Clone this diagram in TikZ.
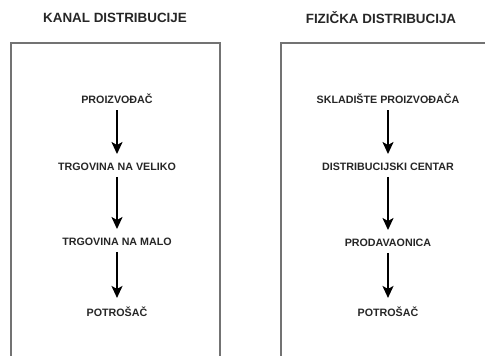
\documentclass[tikz,border=0pt]{standalone}
\usepackage{fontspec}
\setmainfont{Liberation Sans}
\usetikzlibrary{arrows.meta}
\begin{document}
\begin{tikzpicture}[x=1pt,y=-1pt,
  stage/.style={font=\fontsize{10.7}{12}\selectfont\bfseries, text=black!85, inner sep=4pt},
  heading/.style={font=\fontsize{13.4}{15}\selectfont\bfseries, text=black!85},
  flow/.style={-{Stealth[width=11pt,length=12pt,inset=3pt]}, line width=2pt, shorten >=5pt, shorten <=2pt},
  frame/.style={draw=black!55, line width=1.5pt}]
\useasboundingbox (0,0) rectangle (485,356);
% okviri
\draw[frame] (11,370) -- (11,43) -- (220,43) -- (220,370);
\draw[frame] (281,370) -- (281,43) -- (500,43);
% naslovi
\path
(115,18) node[heading] (kanal) {KANAL DISTRIBUCIJE};
\path
(381,18) node[heading] (fizicka) {FIZIČKA DISTRIBUCIJA};
% kanal distribucije
\path
(117,99) node[stage] (proiz) {PROIZVOĐAČ};
\path
(117,167) node[stage] (veliko) {TRGOVINA NA VELIKO};
\path
(117,242) node[stage] (malo) {TRGOVINA NA MALO};
\path
(117,312) node[stage] (potr) {POTROŠAČ};
% fizicka distribucija
\path
(388,99) node[stage] (sklad) {SKLADIŠTE PROIZVOĐAČA};
\path
(388,167) node[stage] (centar) {DISTRIBUCIJSKI CENTAR};
\path
(388,243) node[stage] (prod) {PRODAVAONICA};
\path
(388,312) node[stage] (potrb) {POTROŠAČ};
\foreach \a/\b in {proiz/veliko, veliko/malo, malo/potr, sklad/centar, centar/prod, prod/potrb}
  \draw[flow] (\a) -- (\b);
\end{tikzpicture}
\end{document}
